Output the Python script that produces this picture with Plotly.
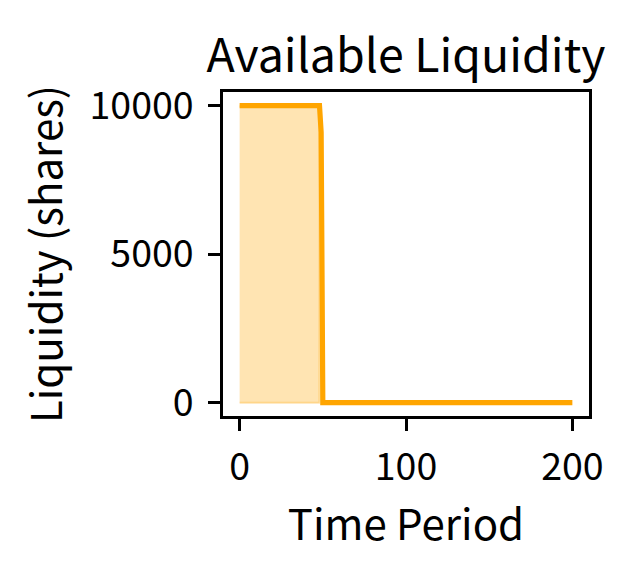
import plotly.graph_objects as go

# liquidity path (breakpoints of the line)
time_period = [0, 48, 49, 50, 200]
liquidity = [10000, 10000, 9100, 0, 0]

# shaded window where liquidity was still available
fill_time = [0, 48]
fill_level = [10000, 10000]

x_ticks = [0, 100, 200]
y_ticks = [0, 5000, 10000]
y_tick_text = ["0", "5000", "10000"]

FONT = "Noto Sans CJK JP"
ORANGE = "#FFA500"

poly_x = fill_time + fill_time[::-1]
poly_y = fill_level + [0] * len(fill_time)

fig = go.Figure()
fig.add_trace(go.Scatter(
    x=poly_x, y=poly_y, fill="toself", mode="lines",
    fillcolor="rgba(255,165,0,0.3)",
    line=dict(color="rgba(255,165,0,0.3)", width=2),
    hoverinfo="skip", showlegend=False))
fig.add_trace(go.Scatter(
    x=time_period, y=liquidity, mode="lines",
    line=dict(color=ORANGE, width=5.2), showlegend=False))

axis_style = dict(
    showgrid=False, zeroline=False, showline=True, mirror=True,
    linecolor="black", linewidth=2.8, ticks="outside", ticklen=12,
    tickwidth=2.8, tickcolor="black", automargin=False,
    tickfont=dict(family=FONT, size=37.5, color="black"))

# page body adds an 8px offset, margins are compensated for it
fig.update_layout(
    width=635, height=574,
    margin=dict(l=215, r=54, t=84, b=166),
    paper_bgcolor="white", plot_bgcolor="white",
    title=dict(text="Available Liquidity", x=0.5, xref="paper",
               y=1, yref="paper", yanchor="bottom", pad=dict(b=20),
               automargin=False,
               font=dict(family=FONT, size=46.5, color="black")),
    xaxis=dict(range=[-10, 210], tickvals=x_ticks, ticklabelstandoff=4,
               title=dict(text="Time Period", standoff=14,
                          font=dict(family=FONT, size=42, color="black")),
               **axis_style),
    yaxis=dict(range=[-450, 10460], tickvals=y_ticks, ticktext=y_tick_text,
               ticklabelstandoff=7,
               title=dict(text="Liquidity (shares)", standoff=14,
                          font=dict(family=FONT, size=42, color="black")),
               **axis_style),
)

fig.write_html("out.html")
